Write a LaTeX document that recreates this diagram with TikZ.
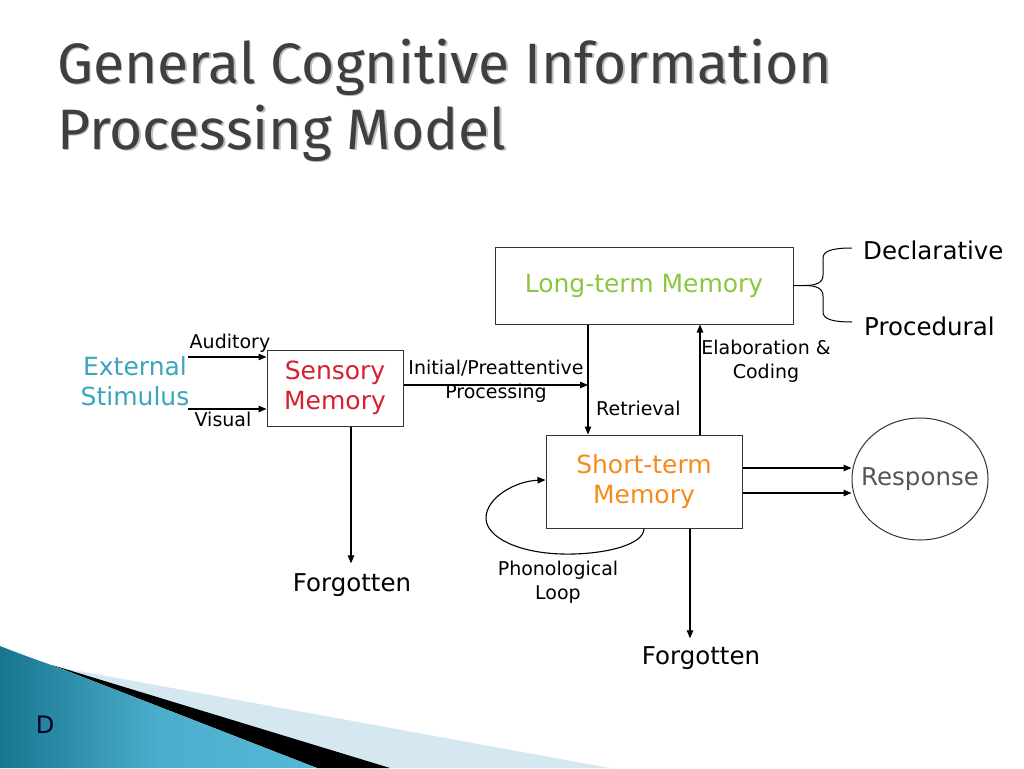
\documentclass[tikz,border=0pt]{standalone}
\usepackage{fontspec}
\setmainfont{DejaVu Sans}
\newfontfamily\titlefont{Fira Sans}
\usetikzlibrary{arrows.meta,shapes.geometric,calc}
\definecolor{titlegray}{HTML}{3F3F3F}
\definecolor{ltmgreen}{HTML}{8CC63E}
\definecolor{smred}{HTML}{D71F30}
\definecolor{stmorange}{HTML}{F58A1F}
\definecolor{stimteal}{HTML}{3AA5BC}
\definecolor{respgray}{HTML}{555555}
\definecolor{tealdark}{HTML}{17758F}
\definecolor{teallight}{HTML}{55B8D8}
\definecolor{paleblue}{HTML}{D5E7F0}
\definecolor{boxline}{HTML}{333333}
\tikzset{
  membox/.style={draw=boxline, line width=1pt, align=center, inner sep=0pt,
    font=\fontsize{25}{30}\selectfont},
  lbl/.style={font=\fontsize{19}{24}\selectfont, align=center, inner sep=0pt},
  big/.style={font=\fontsize{24.5}{28}\selectfont, inner sep=0pt},
  conn/.style={draw=black, line width=1.1pt, -{Triangle[length=8pt,width=6.5pt]}},
  plain/.style={draw=black, line width=1.1pt},
  ttl/.style={font=\titlefont\fontsize{57}{62}\selectfont, anchor=base west, inner sep=0pt},
}
\begin{document}
\begin{tikzpicture}[x=1pt,y=-1pt]
\useasboundingbox (0,0) rectangle (1024,768);
% bottom-left decoration
\fill[paleblue] (57,667) -- (610,768) -- (380,768) -- cycle;
\fill[black] (52,665) -- (390,768) -- (317,768) -- cycle;
\shade[left color=tealdark, right color=teallight, middle color=teallight!85!tealdark]
  (0,646) .. controls (20,654) and (40,661) .. (57,667) -- (317,768) -- (0,768) -- cycle;
\node[font=\fontsize{24}{28}\selectfont, text=black!85!blue, anchor=base] (d) at (45,733) {D};
% title
\node[ttl, text=black!25] (t1s) at (58.5,84.5) {General Cognitive Information};
\node[ttl, text=titlegray] (t1) at (57,83) {General Cognitive Information};
\node[ttl, text=black!25] (t2s) at (58.5,150.5) {Processing Model};
\node[ttl, text=titlegray] (t2) at (57,149) {Processing Model};
% boxes
\node[membox, minimum width=298pt, minimum height=77pt, text=ltmgreen] (ltm) at (644,285.5) {Long-term Memory};
\node[membox, minimum width=136pt, minimum height=76pt, text=smred] (sens) at (335,388) {Sensory\\Memory};
\node[membox, minimum width=196pt, minimum height=93pt, text=stmorange] (stm) at (644,481.5) {Short-term\\Memory};
\node[ellipse, draw=boxline, line width=1pt, minimum width=136pt, minimum height=122pt,
  inner xsep=-13pt, inner ysep=0pt,
  font=\fontsize{24.5}{28}\selectfont, text=respgray] (resp) at (920,479) {Response};
% stimulus
\node[membox, draw=none, text=stimteal] (stim) at (135,381) {External\\Stimulus};
\coordinate (aud0) at (188,357);
\coordinate (vis0) at (188,409);
\draw[conn] (aud0) -- (aud0 -| sens.west);
\draw[conn] (vis0) -- (vis0 -| sens.west);
\node[lbl] (audl) at (230,343) {Auditory};
\node[lbl] (visl) at (223,419) {Visual};
% retrieval / elaboration
\coordinate (ret) at ([xshift=-56pt]ltm.south);
\coordinate (ela) at ([xshift=56pt]stm.north);
\draw[conn] (ret) -- (ret |- stm.north);
\draw[conn] (ela) -- (ela |- ltm.south);
\node[lbl, anchor=west] (retl) at (596,408) {Retrieval};
\node[lbl] (elal) at (766,361) {Elaboration \&\\Coding};
% initial processing
\draw[conn] ([yshift=3pt]sens.east) -- ([yshift=3pt]sens.east -| ret);
\node[lbl] (ipl) at (496,381) {Initial/Preattentive\\Processing};
% brace
\node[big, anchor=west] (decl) at (863,250) {Declarative};
\node[big, anchor=west] (proc) at (864,326) {Procedural};
\coordinate (bt) at (852,248);
\coordinate (bb) at (852,322);
\draw[plain, line width=1pt] (ltm.east) -- (804,285.5)
  .. controls (816,285.5) and (823,283) .. (823,275) -- (823,258)
  .. controls (823,251) and (832,248) .. (bt);
\draw[plain, line width=1pt] (804,285.5)
  .. controls (816,285.5) and (823,288) .. (823,296) -- (823,312)
  .. controls (823,319) and (832,322) .. (bb);
% response arrows
\draw[conn] ([yshift=13.5pt]stm.east) -- ([yshift=13.5pt]stm.east -| resp.west);
\draw[conn] ([yshift=-11.5pt]stm.east) -- ([yshift=-11.5pt]stm.east -| resp.west);
% phonological loop
\draw[conn] (stm.south) .. controls (644,546) and (600,555) .. (562,554)
  .. controls (520,553) and (486,538) .. (486,518)
  .. controls (486,498) and (515,481) .. ([yshift=1.5pt]stm.west);
\node[lbl] (phl) at (558,582) {Phonological\\Loop};
% forgotten
\node[big] (f1) at (352,585) {Forgotten};
\node[big] (f2) at (701,658) {Forgotten};
\coordinate (f1s) at ([xshift=16pt]sens.south);
\coordinate (f2s) at ([xshift=46pt]stm.south);
\draw[conn] (f1s) -- ([yshift=10pt]f1s |- f1.north);
\draw[conn] (f2s) -- ([yshift=8pt]f2s |- f2.north);
\end{tikzpicture}
\end{document}
